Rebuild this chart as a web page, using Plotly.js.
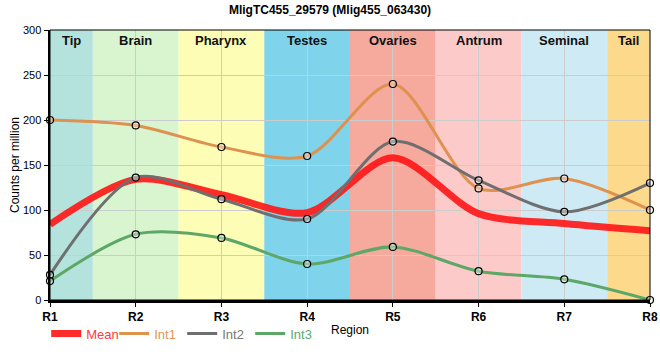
<!DOCTYPE html>
<html><head><meta charset="utf-8">
<script src="https://cdn.plot.ly/plotly-3.0.1.min.js"></script>
<style>html,body{margin:0;padding:0;background:#fff}#chart{width:660px;height:360px}</style>
</head><body><div id="chart"></div>
<script>
const regions = ['R1','R2','R3','R4','R5','R6','R7','R8'];
const int1 = [200, 194, 170, 160, 240, 124, 135, 100];
const int2 = [28, 136, 112, 90, 176, 133, 98, 130];
const int3 = [21, 73, 69, 40, 59, 32, 23, 0];
const meanVals = [84, 134, 117, 97, 158, 96, 85, 77];
const tissues = ['Tip','Brain','Pharynx','Testes','Ovaries','Antrum','Seminal','Tail'];
const tissueColors = ['#b4e3dd','#d8f5d0','#fdfdb6','#7fd3eb','#f5aa9d','#fdcaca','#cdeaf5','#fdda8b'];

const xs = regions.map((_, i) => i);
const shapes = [];
const annotations = [];
tissues.forEach((t, i) => {
  const x0 = Math.max(0, i - 0.5), x1 = Math.min(7, i + 0.5);
  shapes.push({type:'rect', xref:'x', yref:'paper', x0:x0, x1:x1, y0:0, y1:1,
    fillcolor:tissueColors[i], line:{width:0}, layer:'below'});
  annotations.push({text:'<b>'+t+'</b>', xref:'x', yref:'paper', x:(x0+x1)/2, y:1,
    yanchor:'top', yshift:-1, showarrow:false, font:{family:'Liberation Sans, Arial', size:13, color:'#111'}});
});
annotations.push({text:'Region', xref:'paper', yref:'paper', x:0.5, y:-0.111, yanchor:'middle',
  showarrow:false, font:{size:12}});
annotations.push({text:'Counts per million', xref:'paper', yref:'paper', x:-0.0583, y:0.5, textangle:-90,
  xanchor:'center', yanchor:'middle', showarrow:false, font:{size:12}});
shapes.push({type:'rect', xref:'paper', yref:'paper', x0:0, x1:1, y0:0, y1:1, line:{color:'#000', width:1}, layer:'above'});

const mk = {symbol:'circle', size:7, color:'rgba(255,255,255,0.35)', line:{color:'#000', width:1.2}};
const sm = 0.85;
const series = [
  {vals:int1, name:'<span style="color:#e0955a">Int1</span>', color:'#df9150'},
  {vals:int2, name:'<span style="color:#777">Int2</span>', color:'#6f6f6f'},
  {vals:int3, name:'<span style="color:#62a86c">Int3</span>', color:'#5ea767'}
];
const traces = [
  {x:xs, y:meanVals, name:'<span style="color:#ff3b3b">Mean</span>', mode:'lines',
   line:{color:'rgba(255,25,25,0.92)', width:7, shape:'spline', smoothing:sm}}
];
series.forEach(s => traces.push({x:xs, y:s.vals, name:s.name, mode:'lines',
   line:{color:s.color, width:3, shape:'spline', smoothing:sm}}));
series.forEach(s => traces.push({x:xs, y:s.vals, mode:'markers', showlegend:false, marker:mk, cliponaxis:false}));

const layout = {
  width:660, height:360,
  margin:{l:50, r:10, t:30, b:60},
  paper_bgcolor:'#fff', plot_bgcolor:'#fff',
  font:{family:'Liberation Sans, Arial', size:12, color:'#000'},
  title:{text:'<b>MligTC455_29579 (Mlig455_063430)</b>', x:0.5, xref:'container', y:0.985, yanchor:'top',
    font:{size:12, family:'Liberation Sans, Arial'}},
  xaxis:{range:[0,7], tickvals:xs, ticktext:regions, showgrid:true, gridcolor:'#cccccc', automargin:false,
    zeroline:false, showline:true, linecolor:'#000', linewidth:2.5, ticks:'outside', ticklen:4,
    tickcolor:'#000', tickfont:{size:12, weight:'bold'}},
  yaxis:{range:[0,300], dtick:50, showgrid:true, gridcolor:'#cccccc', zeroline:false, automargin:false,
    showline:true, linecolor:'#000', linewidth:2.5, ticks:'outside', ticklen:4, tickcolor:'#000',
    tickfont:{size:11}},
  shapes:shapes, annotations:annotations,
  showlegend:true,
  legend:{orientation:'h', x:0.07, xref:'container', xanchor:'left', y:0.115, yref:'container', yanchor:'top',
    bgcolor:'rgba(0,0,0,0)', font:{size:13, family:'Liberation Sans, Arial'}, itemwidth:30, tracegroupgap:0,
    entrywidth:23, entrywidthmode:'pixels'}
};
Plotly.newPlot('chart', traces, layout, {displayModeBar:false, staticPlot:true});
</script></body></html>
